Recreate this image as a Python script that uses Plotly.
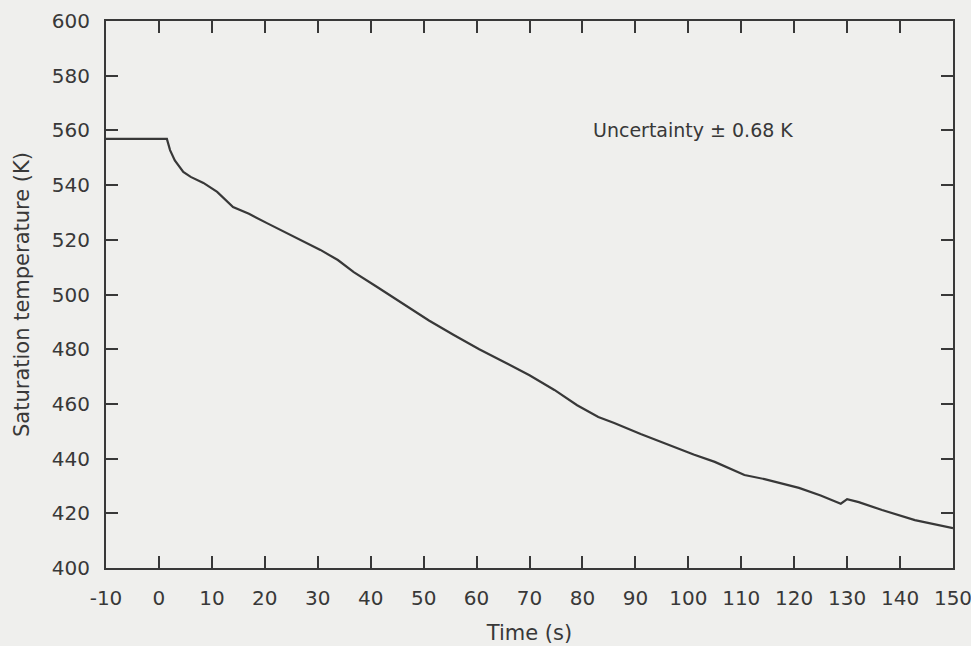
import plotly.graph_objects as go

# Saturation temperature history (time in s, temperature in K)
time_s = [-10, 1.5, 2.1, 3, 4.6, 6, 8.4, 11, 14, 17, 20.5, 24, 27.3, 30.5,
          33.8, 36.8, 41, 46.3, 51, 55.7, 60.5, 65.2, 70, 74.7, 79, 83, 86,
          91, 97.4, 101, 105, 110.6, 114.4, 120.9, 125, 128, 128.8, 130,
          132.2, 136.6, 142.8, 150]
sat_temp_k = [556.9, 556.9, 552.8, 549, 544.8, 543, 540.8, 537.5, 532, 529.5,
              526, 522.5, 519.2, 516.3, 512.6, 508.2, 503, 496.2, 490.5,
              485.2, 480, 475.3, 470.5, 465.1, 459.5, 455.2, 453, 449, 444.2,
              441.5, 438.8, 434, 432.5, 429.3, 426.5, 424.1, 423.5, 425.2,
              424.1, 421.2, 417.5, 414.6]

x_tick_vals = [-10, 0, 10, 20, 30, 40, 50, 60, 70, 80, 90, 100, 110, 120, 130, 140, 150]
x_tick_text = ["-10", "0", "10", "20", "30", "40", "50", "60", "70", "80",
               "90", "100", "110", "120", "130", "140", "150"]
y_tick_vals = [400, 420, 440, 460, 480, 500, 520, 540, 560, 580, 600]

note_text = "Uncertainty \u00b1 0.68 K"
note_x, note_y = 100.8, 560.1

ink = "#383838"
paper = "#efefed"
font_family = "DejaVu Sans"

fig = go.Figure()
fig.add_trace(go.Scatter(
    x=time_s, y=sat_temp_k, mode="lines",
    line=dict(color=ink, width=2.2, shape="linear"),
    showlegend=False, hoverinfo="skip",
))

axis_common = dict(
    showgrid=False, zeroline=False, automargin=False,
    showline=True, linecolor=ink, linewidth=2, mirror="ticks",
    ticks="inside", ticklen=12, tickwidth=2, tickcolor=ink,
    tickfont=dict(family=font_family, size=20, color=ink),
    ticklabeloverflow="allow",
)

fig.update_xaxes(
    range=[-10, 150], tickvals=x_tick_vals, ticktext=x_tick_text,
    title=dict(text="Time (s)", font=dict(family=font_family, size=21, color=ink), standoff=16),
    ticklabelstandoff=11,
    **axis_common,
)
fig.update_yaxes(
    range=[400, 600], tickvals=y_tick_vals,
    title=dict(text="Saturation temperature (K)", font=dict(family=font_family, size=21, color=ink), standoff=16),
    ticklabelstandoff=10,
    **axis_common,
)

fig.add_annotation(
    x=note_x, y=note_y, text=note_text, showarrow=False,
    xanchor="center", yanchor="middle",
    font=dict(family=font_family, size=19, color=ink),
)

fig.update_layout(
    width=971, height=646,
    margin=dict(l=106, r=18, t=21, b=78, autoexpand=False),
    paper_bgcolor=paper, plot_bgcolor=paper,
)

fig.write_html("out.html")
